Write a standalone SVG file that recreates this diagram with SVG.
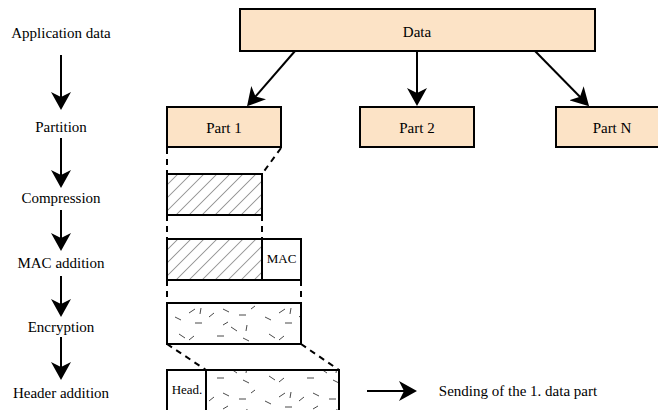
<svg xmlns="http://www.w3.org/2000/svg" width="658" height="410" viewBox="0 0 658 410">
<style>
text{font-family:"Liberation Serif","Times New Roman",Tinos,"DejaVu Serif",serif;font-size:15px;fill:#000;text-anchor:middle}
.small{font-size:13px}
.box{fill:#fce3c6;stroke:#000;stroke-width:2}
.wbox{fill:#fff;stroke:#000;stroke-width:2}
.hbox{fill:url(#hatch);stroke:#000;stroke-width:2}
.ebox{fill:url(#noise);stroke:#000;stroke-width:2}
.arr{stroke:#000;stroke-width:2;fill:none;marker-end:url(#ah)}
.dash{stroke:#000;stroke-width:2;fill:none;stroke-dasharray:6 5}
</style>
<defs>
<marker id="ah" viewBox="0 0 18 20" refX="15" refY="10" markerWidth="18" markerHeight="20" markerUnits="userSpaceOnUse" orient="auto">
<path d="M0,0 L18,10 L0,20 L5,10 z" fill="#000"/>
</marker>
<pattern id="hatch" patternUnits="userSpaceOnUse" width="9.2" height="9.2" patternTransform="rotate(45)">
<rect width="9.2" height="9.2" fill="#fff"/>
<line x1="0" y1="0" x2="0" y2="9.2" stroke="#333" stroke-width="0.9"/>
</pattern>
<pattern id="noise" patternUnits="userSpaceOnUse" x="167" y="303" width="90" height="42">
<rect width="90" height="42" fill="#fff"/>
<g stroke="#333" stroke-width="0.9">
<line x1="8" y1="14" x2="14" y2="17"/>
<line x1="22" y1="10" x2="28" y2="6"/>
<line x1="34" y1="5" x2="33" y2="11"/>
<line x1="42" y1="14" x2="47" y2="10"/>
<line x1="28" y1="20" x2="35" y2="20"/>
<line x1="56" y1="6" x2="62" y2="9"/>
<line x1="72" y1="12" x2="79" y2="12"/>
<line x1="56" y1="22" x2="61" y2="19"/>
<line x1="64" y1="24" x2="70" y2="28"/>
<line x1="12" y1="31" x2="18" y2="35"/>
<line x1="22" y1="37" x2="27" y2="33"/>
<line x1="50" y1="33" x2="57" y2="33"/>
<line x1="80" y1="22" x2="79" y2="28"/>
<line x1="84" y1="6" x2="88" y2="3"/>
<line x1="76" y1="35" x2="82" y2="38"/>
</g>
</pattern>
</defs>

<g id="left-labels">
<text x="61" y="38">Application data</text>
<text x="61" y="132">Partition</text>
<text x="61" y="203">Compression</text>
<text x="61" y="268">MAC addition</text>
<text x="61" y="332">Encryption</text>
<text x="61" y="398">Header addition</text>
</g>

<g id="connectors">
<line class="arr" x1="61" y1="55" x2="61" y2="107"/>
<line class="arr" x1="61" y1="138" x2="61" y2="185"/>
<line class="arr" x1="61" y1="210" x2="61" y2="248"/>
<line class="arr" x1="61" y1="276" x2="61" y2="314"/>
<line class="arr" x1="61" y1="337" x2="61" y2="377"/>
<line class="arr" x1="295" y1="51" x2="249" y2="104"/>
<line class="arr" x1="417" y1="51" x2="417" y2="103"/>
<line class="arr" x1="535" y1="51" x2="587" y2="104"/>
<line class="arr" x1="367" y1="391" x2="414" y2="391"/>
<line class="dash" x1="167" y1="148" x2="167" y2="174"/>
<line class="dash" x1="281" y1="148" x2="262" y2="174"/>
<line class="dash" x1="167" y1="215" x2="167" y2="239"/>
<line class="dash" x1="262" y1="215" x2="262" y2="239"/>
<line class="dash" x1="167" y1="280" x2="167" y2="303"/>
<line class="dash" x1="301" y1="280" x2="301" y2="303"/>
<line class="dash" x1="167" y1="344" x2="206" y2="370"/>
<line class="dash" x1="301" y1="344" x2="339" y2="370"/>
</g>

<g id="data">
<rect class="box" x="240" y="9" width="355" height="42"/>
<text x="417" y="37">Data</text>
</g>
<g id="part1">
<rect class="box" x="167" y="107" width="114" height="40"/>
<text x="224" y="133">Part 1</text>
</g>
<g id="part2">
<rect class="box" x="360" y="107" width="114" height="40"/>
<text x="417" y="133">Part 2</text>
</g>
<g id="partN">
<rect class="box" x="556" y="107" width="114" height="40"/>
<text x="612" y="133">Part N</text>
</g>
<g id="compressed">
<rect class="hbox" x="167" y="174" width="95" height="41"/>
</g>
<g id="mac-row">
<rect class="hbox" x="167" y="239" width="95" height="41"/>
<rect class="wbox" x="262" y="239" width="39" height="41"/>
<text class="small" x="281.5" y="263">MAC</text>
</g>
<g id="encrypted">
<rect class="ebox" x="167" y="303" width="134" height="41"/>
</g>
<g id="header-row">
<rect class="wbox" x="167" y="370" width="39" height="42"/>
<text class="small" x="187" y="394">Head.</text>
<rect class="ebox" x="206" y="370" width="133" height="42"/>
</g>
<g id="sending">
<text x="518" y="396">Sending of the 1. data part</text>
</g>
</svg>
